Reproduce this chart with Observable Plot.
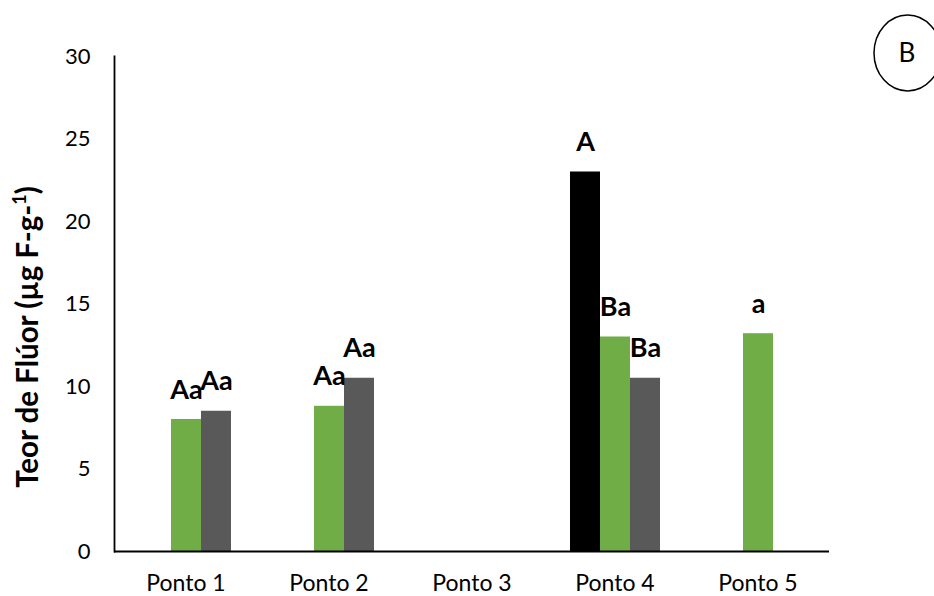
<!DOCTYPE html>
<html><head><meta charset="utf-8">
<script src="https://cdn.jsdelivr.net/npm/d3@7"></script>
<script src="https://cdn.jsdelivr.net/npm/@observablehq/plot@0.6"></script>
<style>body{margin:0;background:#fff} svg{display:block}</style>
</head><body><div id="chart"></div>
<script>
const categories = ["Ponto 1","Ponto 2","Ponto 3","Ponto 4","Ponto 5"];
const seriesNames = ["Série 1","Série 2","Série 3"];
const serie1Values = [null, null, null, 23.0, null];
const serie2Values = [8.0, 8.8, null, 13.0, 13.2];
const serie3Values = [8.5, 10.5, null, 10.5, null];
const serie1Labels = ["", "", "", "A", ""];
const serie2Labels = ["Aa", "Aa", "", "Ba", "a"];
const serie3Labels = ["Aa", "Aa", "", "Ba", ""];
const seriesColors = ["#000000", "#70AD47", "#595959"];
const yTicks = [0, 5, 10, 15, 20, 25, 30];
const yTitleMain = "Teor de Flúor (µg F-g-";
const yTitleSup = "1";
const yTitleEnd = ")";
const badgeText = "B";

const valueSets = [serie1Values, serie2Values, serie3Values];
const labelSets = [serie1Labels, serie2Labels, serie3Labels];
const rows = [];
categories.forEach((cat, i) => {
  seriesNames.forEach((s, j) => {
    const v = valueSets[j][i];
    if (v != null) rows.push({cat, series: s, value: v, label: labelSets[j][i]});
  });
});
const baseline = categories.map(cat => ({cat, value: 0}));

const FONT = "Lato, 'DejaVu Sans', sans-serif";
const chart = Plot.plot({
  width: 934, height: 596,
  marginLeft: 114, marginRight: 105, marginTop: 56, marginBottom: 45,
  style: {fontFamily: FONT, background: "white", color: "#000"},
  fx: {domain: categories, padding: 0, label: null},
  x: {domain: seriesNames, paddingInner: 0, paddingOuter: 0.883, axis: null},
  y: {domain: [0, 30], label: null},
  color: {domain: seriesNames, range: seriesColors},
  marks: [
    Plot.barY(rows, {fx: "cat", x: "series", y: "value", fill: "series"}),
    Plot.text(rows.filter(d => d.label), {fx: "cat", x: "series", y: "value", text: "label",
      dy: -21, lineAnchor: "bottom", fontSize: 27, fontWeight: "bold", fill: "#000"}),
    Plot.ruleY(baseline, {fx: "cat", y: "value", stroke: "#000", strokeWidth: 1.8}),
    Plot.axisY({ticks: yTicks, tickSize: 0, tickPadding: 24, fontSize: 22, label: null}),
    Plot.axisFx({tickSize: 0, tickPadding: 23, fontSize: 23, label: null, anchor: "bottom"}),
    Plot.frame({anchor: "left", facetAnchor: "left", stroke: "#000", strokeWidth: 1.8})
  ]
});

const svg = d3.select(chart);
const t = svg.append("text")
  .attr("transform", "translate(38,337) rotate(-90)")
  .attr("text-anchor", "middle")
  .attr("font-family", FONT)
  .attr("font-weight", "bold")
  .attr("font-size", 29.5)
  .attr("fill", "#000");
t.append("tspan").text(yTitleMain);
t.append("tspan").attr("dy", -12).attr("font-size", 18).text(yTitleSup);
t.append("tspan").attr("dy", 12).text(yTitleEnd);

svg.append("ellipse")
  .attr("cx", 907.6).attr("cy", 53).attr("rx", 33.6).attr("ry", 38)
  .attr("fill", "none").attr("stroke", "#000").attr("stroke-width", 1.5);
svg.append("text")
  .attr("x", 907).attr("y", 53).attr("dy", "0.35em")
  .attr("text-anchor", "middle")
  .attr("font-family", FONT).attr("font-size", 26).attr("fill", "#000")
  .text(badgeText);

document.getElementById("chart").appendChild(chart);
</script>
</body></html>
